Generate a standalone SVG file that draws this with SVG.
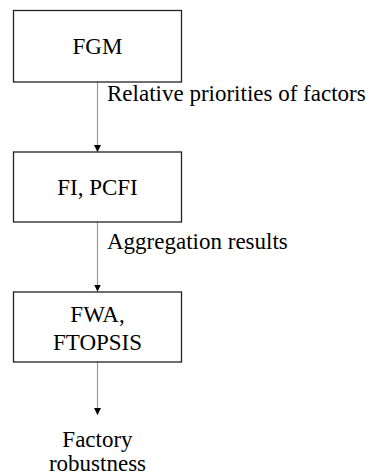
<svg xmlns="http://www.w3.org/2000/svg" width="375" height="476" viewBox="0 0 375 476">
<defs>
<marker id="ah" viewBox="0 0 10 10" refX="10" refY="5" markerWidth="7" markerHeight="7" markerUnits="userSpaceOnUse" orient="auto">
<path d="M0,0 L10,5 L0,10 Z" fill="#000"/>
</marker>
</defs>
<rect width="375" height="476" fill="#fff"/>
<g id="connectors" stroke="#999" stroke-width="1.2" fill="none">
<line x1="97.5" y1="82" x2="97.5" y2="152" marker-end="url(#ah)"/>
<line x1="97.5" y1="222" x2="97.5" y2="291.5" marker-end="url(#ah)"/>
<line x1="97.5" y1="362" x2="97.5" y2="415" marker-end="url(#ah)"/>
</g>
<text x="107" y="101" font-family="Liberation Serif" font-size="23">Relative priorities of factors</text>
<text x="107" y="249" font-family="Liberation Serif" font-size="23">Aggregation results</text>
<g id="fgm">
<rect x="13.5" y="10.5" width="168" height="71.5" fill="#fff" stroke="#222" stroke-width="1.3"/>
<text x="97.5" y="54" font-family="Liberation Serif" font-size="23" text-anchor="middle">FGM</text>
</g>
<g id="fi-pcfi">
<rect x="13.5" y="152" width="168" height="70" fill="#fff" stroke="#222" stroke-width="1.3"/>
<text x="97.5" y="195" font-family="Liberation Serif" font-size="23" text-anchor="middle">FI, PCFI</text>
</g>
<g id="fwa-ftopsis">
<rect x="13.5" y="292" width="168" height="70" fill="#fff" stroke="#222" stroke-width="1.3"/>
<text x="97.5" y="322" font-family="Liberation Serif" font-size="23" text-anchor="middle">FWA,</text>
<text x="97.5" y="350" font-family="Liberation Serif" font-size="23" text-anchor="middle">FTOPSIS</text>
</g>
<g id="factory-robustness">
<text x="97.5" y="447" font-family="Liberation Serif" font-size="23" text-anchor="middle">Factory</text>
<text x="97.5" y="471" font-family="Liberation Serif" font-size="23" text-anchor="middle">robustness</text>
</g>
</svg>
